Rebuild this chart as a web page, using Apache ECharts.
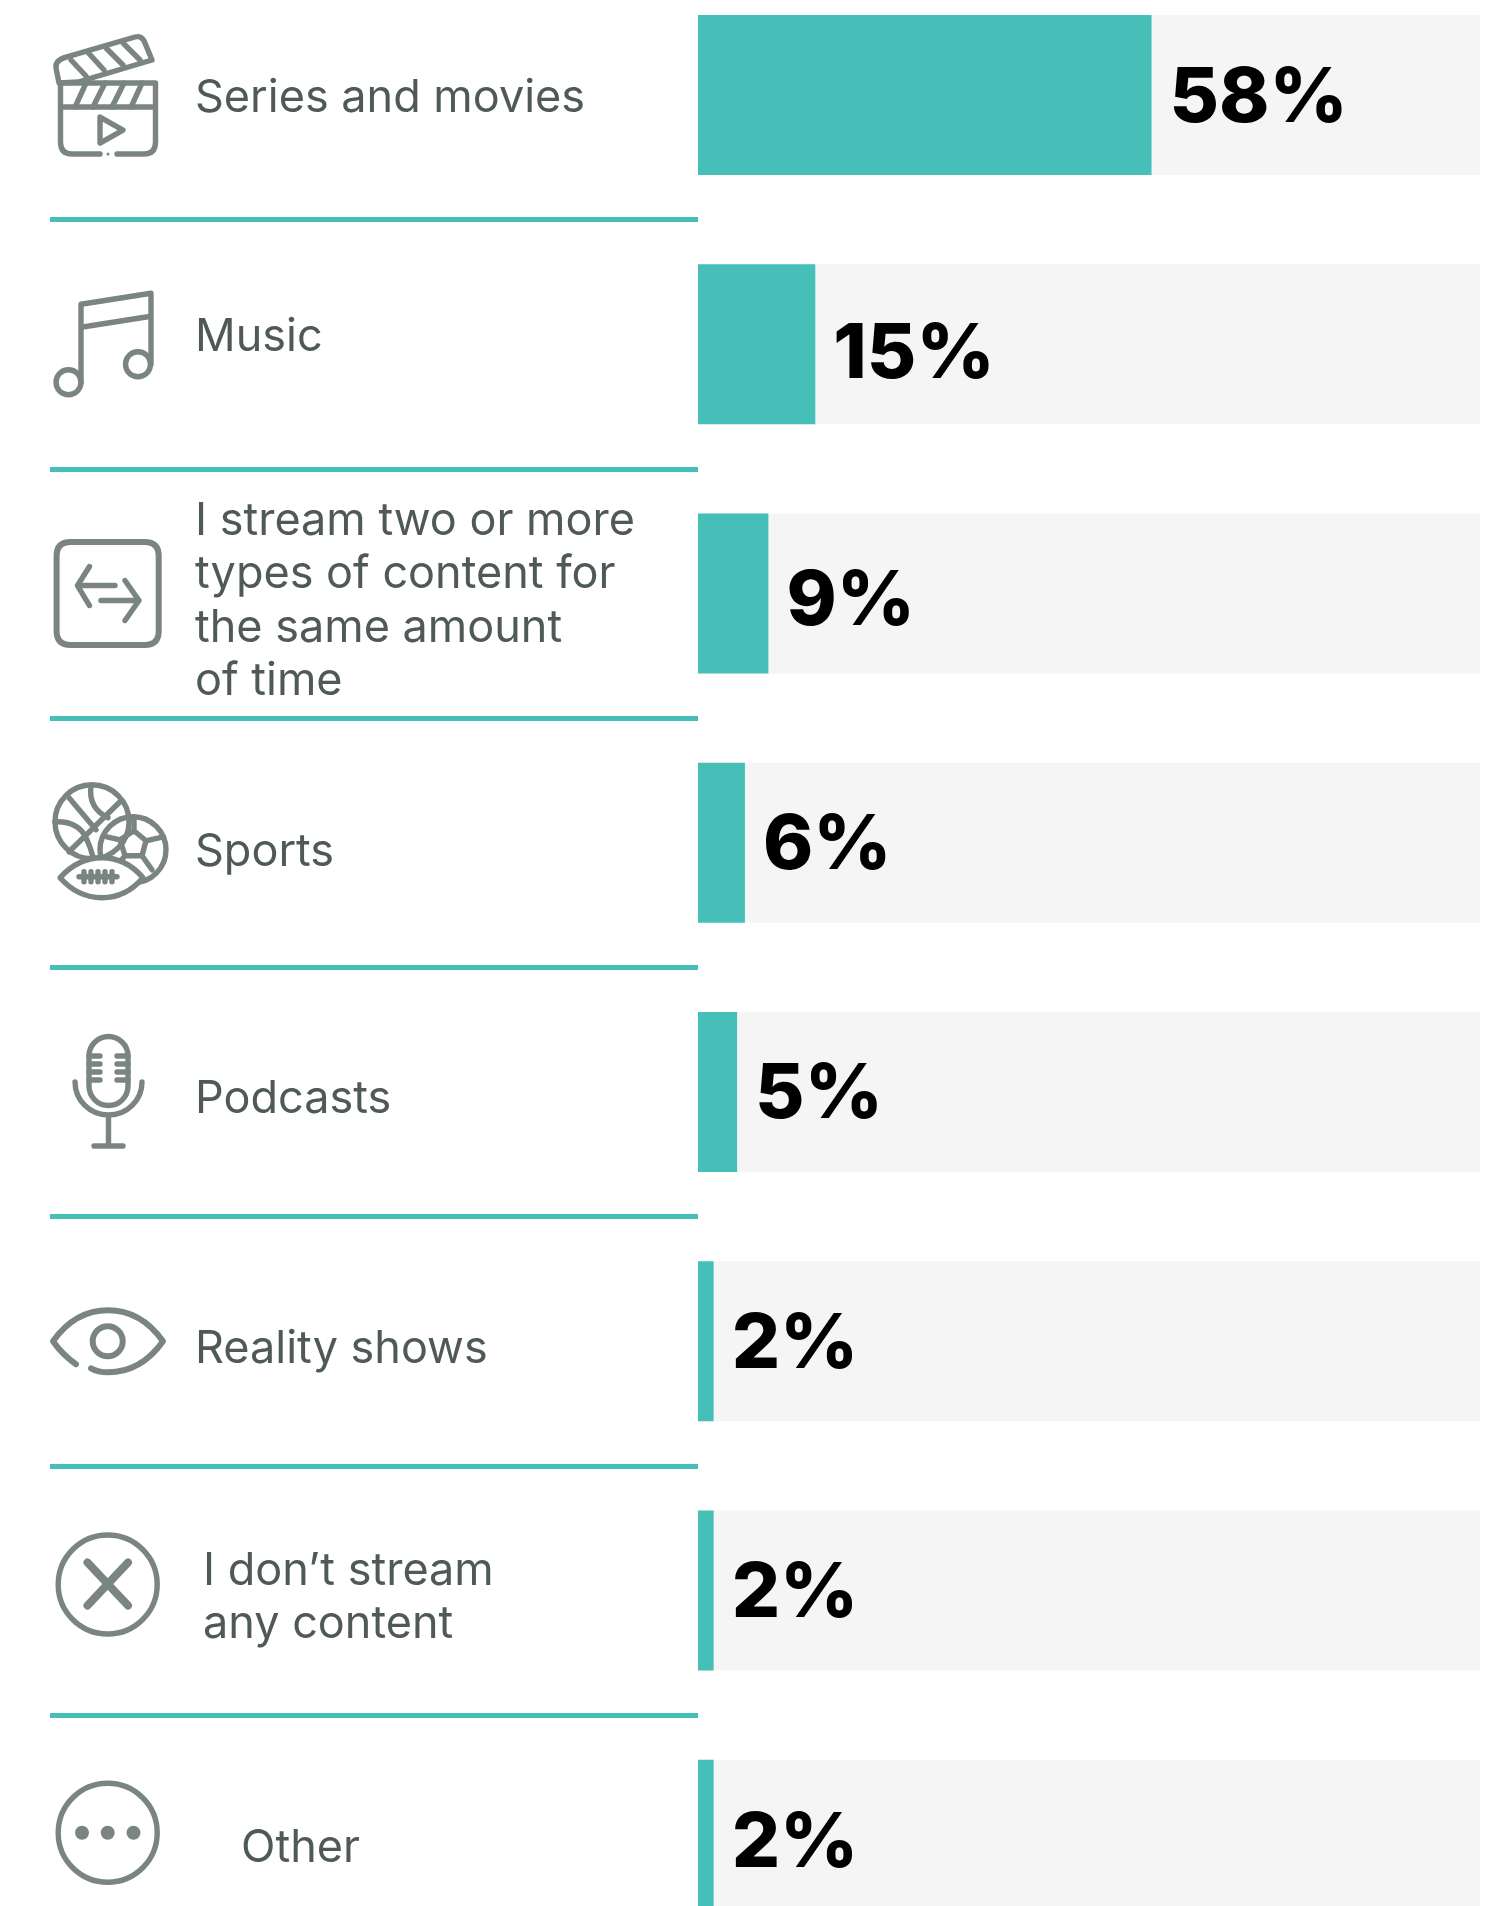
<!DOCTYPE html>
<html>
<head>
<meta charset="utf-8">
<style>html,body{margin:0;padding:0;background:#fff}#c{width:1496px;height:1906px}</style>
<script src="https://cdn.jsdelivr.net/npm/echarts@6/dist/echarts.min.js"></script>
</head>
<body>
<div id="c"></div>
<script>
const categories = [
  "Series and movies",
  "Music",
  "I stream two or more\ntypes of content for\nthe same amount\nof time",
  "Sports",
  "Podcasts",
  "Reality shows",
  "I don\u2019t stream\nany content",
  "Other"
];
const shares = [58, 15, 9, 6, 5, 2, 2, 2];

const TEAL = "#46bfb8", TRACK = "#f5f5f5", INK = "#4f5a58", ICON = "#7a8580";
const FONT = "Inter";
const TEXT_SIZE = 45, TEXT_LINE = 53.5, CAP_MID = 12.4;

// layout nudges per row (hand-placed in the source design)
const textX = [145, 145, 145, 145, 145, 145, 153, 191];
const textBase = [16, 6, -60, 22, 20, 21, -7, 21];
const valueNudge = [4, 11, 9, 3, 3, 4, 4, 4];

function circ(cx, cy, r) {
  return `M${cx - r},${cy}A${r},${r} 0 1 1 ${cx + r},${cy}A${r},${r} 0 1 1 ${cx - r},${cy}Z`;
}
const iconShapes = [
  [ // clapper
    {d: "M10.5,-12H105.5V47Q105.5,59 94,59H67M50,59H22Q10.5,59 10.5,47V-12M10.5,12H105.5"},
    {d: "M25,12L36,-12M43,12L55,-12M62,12L74,-12M81,12L92,-12"},
    {d: "M9,-12L6,-27Q5,-35 16,-38L85,-58Q92,-60 95,-52L102,-35L28,-13Z"},
    {d: "M21,-35L36,-19M38.5,-42L54,-25M56,-47L73,-30M73,-52L90,-35"},
    {d: "M50,22L73,35L50,48Z"},
    {d: circ(58, 59, 1.5), fill: ICON}
  ],
  [ // music
    {d: "M31,38V-40L101,-51V20M31,-17L101,-28"},
    {d: circ(18.5, 38, 12.5)},
    {d: circ(88, 20, 12.5)}
  ],
  [ // two arrows in a box
    {d: "M20.6,-51.5H94.7Q108.7,-51.5 108.7,-37.5V37.5Q108.7,51.5 94.7,51.5H20.6Q6.6,51.5 6.6,37.5V-37.5Q6.6,-51.5 20.6,-51.5Z", w: 6},
    {d: "M39.5,-27L27.5,-8L39.5,12M27.5,-8H65"},
    {d: "M75,-13L89,7L75,27M89,7H51"}
  ],
  [ // sports balls
    {d: circ(42, -21, 37)},
    {d: "M19,-45L46,-13M70,-41L19,9M41,-57Q38,-35 58,-25M5,-21Q28,-22 36,-5Q40,3 43,14"},
    {d: circ(83, 7, 33)},
    {d: "M70,-3L84,-12L96,-2L92,13L75,13ZM84,-12V-26M96,-2L113,-6M92,13L102,27M75,13L66,24M70,-3L57,-6"},
    {d: "M10,35Q28,15 52,15Q76,15 93,35Q76,55 52,55Q28,55 10,35Z", fill: "#ffffff"},
    {d: "M29,34H67M34,29V39M41,29V39M48,29V39M55,29V39M62,29V39"}
  ],
  [ // microphone
    {d: "M39,-36A19.5,19.5 0 0 1 78,-36V-6A19.5,19.5 0 0 1 39,-6Z"},
    {d: "M39,-36H50M39,-28H50M39,-20H50M39,-12H50M67,-36H78M67,-28H78M67,-20H78M67,-12H78"},
    {d: "M25,-10A33.5,33 0 0 0 92,-10M58.5,23V54M44,54H73"}
  ],
  [ // eye
    {d: "M26,23Q12,13 3,0Q25,-31 58,-31Q91,-31 113,0Q91,31 58,31Q48,31 41,27", w: 6},
    {d: circ(57.7, 0, 15), w: 6}
  ],
  [ // crossed circle
    {d: circ(57.7, -6, 49.5)},
    {d: "M37.5,-28L78,15M78,-28L37.5,15", w: 8}
  ],
  [ // dots in circle
    {d: circ(57.7, -7, 49.5)},
    {d: circ(32, -7, 7), fill: ICON},
    {d: circ(57.7, -7, 7), fill: ICON},
    {d: circ(83.5, -7, 7), fill: ICON}
  ]
];

function renderRow(params, api) {
  const i = api.value(1);
  const p = api.coord([0, i]);
  const children = iconShapes[i].map(s => ({
    type: "path",
    shape: {pathData: s.d},
    style: {
      fill: s.fill || "none",
      stroke: s.fill === ICON ? "none" : ICON,
      lineWidth: s.w || 5.4,
      lineCap: "round",
      lineJoin: "round"
    }
  }));
  categories[i].split("\n").forEach((line, k) => {
    children.push({
      type: "text",
      style: {
        text: line,
        x: textX[i],
        y: textBase[i] + k * TEXT_LINE - CAP_MID,
        fill: INK,
        fontFamily: FONT,
        fontSize: TEXT_SIZE,
        fontWeight: 400,
        align: "left",
        verticalAlign: "middle"
      }
    });
  });
  return {type: "group", x: p[0], y: p[1], children};
}

const chart = echarts.init(document.getElementById("c"), null, {renderer: "canvas", width: 1496, height: 1906});
const TOP = -29.6, H = 1994;
chart.setOption({
  animation: false,
  backgroundColor: "#ffffff",
  grid: [
    {left: 50, top: TOP, width: 648, height: H, containLabel: false, outerBoundsMode: "none"},
    {left: 698, top: TOP, width: 782, height: H, containLabel: false, outerBoundsMode: "none"}
  ],
  xAxis: [
    {gridIndex: 0, type: "value", min: 0, max: 648, show: false},
    {gridIndex: 1, type: "value", min: 0, max: 100, show: false}
  ],
  yAxis: [
    {
      gridIndex: 0, type: "category", inverse: true, data: categories,
      axisLine: {show: false}, axisTick: {show: false}, axisLabel: {show: false},
      splitLine: {show: true, interval: 0, lineStyle: {color: TEAL, width: 5}}
    },
    {
      gridIndex: 1, type: "category", inverse: true, data: categories,
      axisLine: {show: false}, axisTick: {show: false}, axisLabel: {show: false},
      splitLine: {show: false}
    }
  ],
  series: [
    {
      type: "custom", xAxisIndex: 0, yAxisIndex: 0, clip: false, silent: true,
      data: categories.map((c, i) => [0, i]),
      renderItem: renderRow
    },
    {
      type: "bar", xAxisIndex: 1, yAxisIndex: 1, barWidth: 160, silent: true,
      showBackground: true,
      backgroundStyle: {color: TRACK},
      itemStyle: {color: TEAL},
      data: shares.map((v, i) => ({
        value: v,
        label: {offset: [0, valueNudge[i]]}
      })),
      label: {
        show: true, position: "right", distance: 18,
        formatter: "{c}%",
        color: "#000000",
        fontFamily: FONT, fontWeight: 800, fontSize: 76
      }
    }
  ]
});
</script>
</body>
</html>
